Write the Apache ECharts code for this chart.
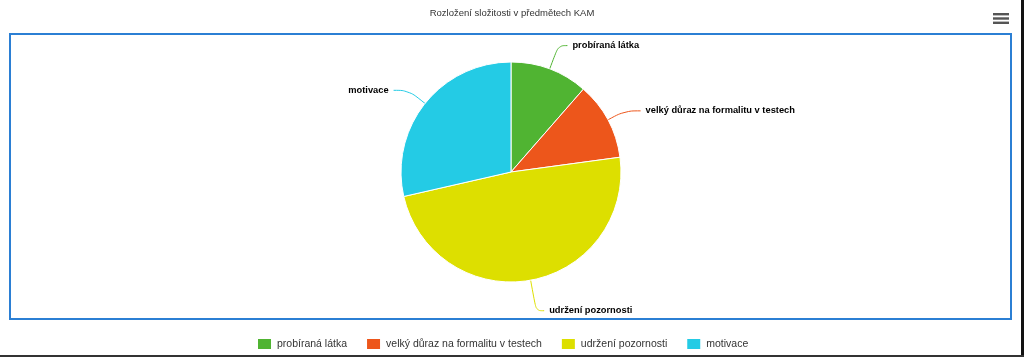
<!DOCTYPE html>
<html>
<head>
<meta charset="utf-8">
<script src="https://cdn.jsdelivr.net/npm/echarts@6/dist/echarts.min.js"></script>
<style>
html,body{margin:0;padding:0;background:#fff;}
#main{width:1024px;height:357px;}
</style>
</head>
<body>
<div id="main"></div>
<script>
const titleText = 'Rozložení složitosti v předmětech KAM';
const categories = ['probíraná látka', 'velký důraz na formalitu v testech', 'udržení pozornosti', 'motivace'];
const values = [4, 4, 17, 10];
const colors = ['#50B432', '#ED561B', '#DDDF00', '#24CBE5'];
// connector lengths per slice (style, not data)
const connLen1 = [25, 19, 31, 21];
const connLen2 = [9, 16, 8, 15];

const chart = echarts.init(document.getElementById('main'), null, {renderer: 'canvas'});
const font = '"Liberation Sans", Arial, sans-serif';
chart.setOption({
  animation: false,
  color: colors,
  title: {
    text: titleText,
    left: 'center',
    top: 3,
    textStyle: {fontSize: 9.5, fontWeight: 'normal', color: '#333', fontFamily: font}
  },
  legend: {
    data: categories,
    left: 251,
    top: 332,
    icon: 'rect',
    itemWidth: 15,
    itemHeight: 12,
    itemGap: 18,
    textStyle: {fontSize: 10.5, color: '#333', fontFamily: font}
  },
  graphic: [
    {type: 'rect', shape: {x: 10, y: 34, width: 1001, height: 285}, style: {fill: 'none', stroke: '#2b7fd4', lineWidth: 2}, z: 0},
    {type: 'rect', shape: {x: 1021, y: 0, width: 3, height: 357}, style: {fill: '#111'}},
    {type: 'rect', shape: {x: 0, y: 355, width: 1024, height: 2}, style: {fill: '#333'}},
    {type: 'rect', shape: {x: 993, y: 13, width: 16, height: 2.4}, style: {fill: '#555'}},
    {type: 'rect', shape: {x: 993, y: 17.3, width: 16, height: 2.4}, style: {fill: '#555'}},
    {type: 'rect', shape: {x: 993, y: 21.6, width: 16, height: 2.4}, style: {fill: '#555'}}
  ],
  series: [{
    type: 'pie',
    center: [511, 172],
    radius: 110,
    startAngle: 90,
    clockwise: true,
    avoidLabelOverlap: false,
    itemStyle: {borderColor: '#fff', borderWidth: 1},
    label: {
      show: true,
      position: 'outside',
      color: '#000',
      fontWeight: 'bold',
      fontSize: 9.3,
      fontFamily: font,
      distanceToLabelLine: 5
    },
    labelLine: {show: true, length: 22, length2: 8, smooth: 0.4, lineStyle: {width: 1}},
    data: categories.map((c, i) => ({
      name: c,
      value: values[i],
      labelLine: {length: connLen1[i], length2: connLen2[i]}
    }))
  }]
});
</script>
</body>
</html>
